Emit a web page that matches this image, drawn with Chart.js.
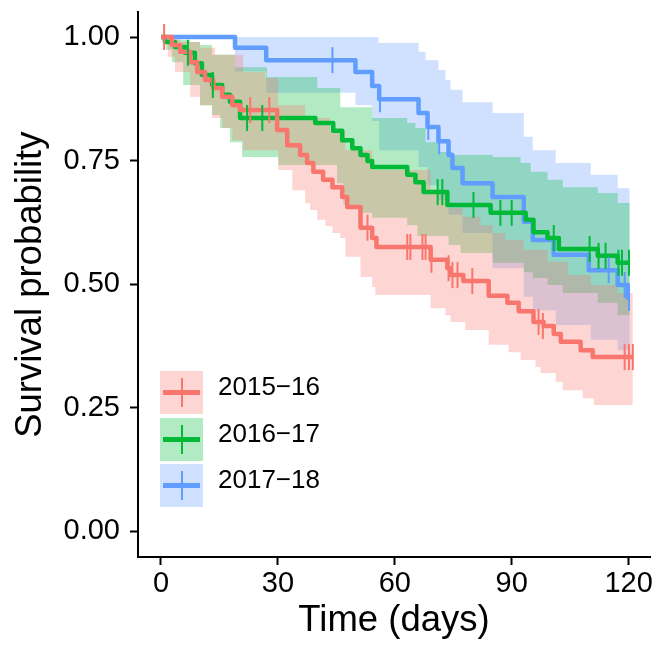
<!DOCTYPE html>
<html>
<head>
<meta charset="utf-8">
<script src="https://cdn.jsdelivr.net/npm/chart.js@4.4.1/dist/chart.umd.min.js"></script>
<style>
  body { margin: 0; background: #fff; }
  #wrap { position: relative; width: 656px; height: 649px; }
  #chart { position: absolute; left: 0; top: 0; }
  .key { position: absolute; left: 160px; width: 43px; height: 43px; }
  .key .h { position: absolute; left: 3px; right: 3px; top: 19px; height: 5px; }
  .key .v { position: absolute; left: 20.5px; width: 2px; top: 7px; height: 29px; }
  .lab { position: absolute; left: 218px; height: 43px; line-height: 43px; color: #000;
         font: 26px "Liberation Sans", Arial, sans-serif; }
</style>
</head>
<body>
<div id="wrap">
  <canvas id="chart" width="656" height="649"></canvas>
</div>
<script>
// groups
const groups = ['2015−16', '2016−17', '2017−18'];
const lineColors = ['#F8766D', '#00BA38', '#619CFF'];
const bandColors = ['rgba(248,118,109,0.3)', 'rgba(0,186,56,0.3)', 'rgba(97,156,255,0.3)'];

// axis ticks
const xTicks = [0, 30, 60, 90, 120];
const yTicks = [0, 0.25, 0.5, 0.75, 1];
const yTickLabels = ['0.00', '0.25', '0.50', '0.75', '1.00'];

// 2015-16: survival steps, censor marks, confidence band
const t1516 = [0, 2.8, 4.9, 7.5, 9.3, 11.3, 13.4, 15.7, 18.3, 20.3, 29.8, 32.4, 35.7, 37.5, 39.1, 41.6, 44.0, 46.5, 47.8, 51.2, 54.2, 55.3, 69.2, 73.5, 74.3, 77.6, 84.1, 88.9, 91.8, 95.6, 98.2, 100.8, 102.6, 107.7, 110.8, 121.1];
const s1516 = [1.0, 0.984, 0.970, 0.949, 0.929, 0.913, 0.897, 0.879, 0.862, 0.852, 0.812, 0.781, 0.761, 0.745, 0.727, 0.711, 0.696, 0.676, 0.656, 0.614, 0.593, 0.575, 0.549, 0.532, 0.518, 0.506, 0.476, 0.462, 0.445, 0.423, 0.415, 0.399, 0.383, 0.366, 0.352, 0.352];
const c1516T = [0.8, 22.9, 27.8, 53.0, 63.2, 64.0, 67.1, 67.9, 69.4, 73.8, 74.8, 76.1, 79.9, 96.9, 98.0, 119.0, 120.1, 121.1];
const c1516S = [1.0, 0.852, 0.852, 0.614, 0.575, 0.575, 0.575, 0.575, 0.549, 0.532, 0.518, 0.518, 0.506, 0.423, 0.415, 0.352, 0.352, 0.352];
const hi1516T = [0, 4.9, 10.0, 13.9, 21.1, 26.7, 30.1, 37.0, 43.4, 47.3, 54.2, 69.2, 73.8, 77.4, 82.0, 85.1, 88.4, 93.1, 99.2, 104.4, 110.3, 117.2, 121.1];
const hi1516 = [1.0, 0.990, 0.978, 0.964, 0.929, 0.917, 0.862, 0.836, 0.812, 0.771, 0.731, 0.690, 0.654, 0.636, 0.619, 0.603, 0.589, 0.569, 0.545, 0.518, 0.498, 0.482, 0.482];
const lo1516T = [0, 1.8, 3.6, 7.5, 10.0, 13.1, 15.7, 18.3, 21.1, 30.1, 33.7, 37.0, 38.3, 40.1, 42.2, 44.0, 46.0, 47.3, 51.2, 54.2, 55.0, 69.2, 73.0, 74.3, 78.1, 84.1, 89.2, 92.3, 96.1, 97.4, 101.3, 103.1, 108.2, 111.1, 121.1];
const lo1516 = [1.0, 0.960, 0.929, 0.879, 0.862, 0.836, 0.816, 0.791, 0.771, 0.731, 0.690, 0.664, 0.650, 0.630, 0.617, 0.603, 0.593, 0.555, 0.514, 0.494, 0.478, 0.451, 0.437, 0.423, 0.407, 0.377, 0.362, 0.346, 0.332, 0.320, 0.302, 0.285, 0.269, 0.255, 0.255];

// 2016-17
const t1617 = [0, 1.0, 3.6, 6.2, 8.7, 10.5, 13.1, 15.7, 17.7, 20.3, 39.6, 44.2, 46.5, 49.1, 51.2, 53.0, 54.2, 63.2, 65.3, 67.4, 73.5, 84.6, 93.6, 95.6, 99.2, 102.1, 112.1, 117.2, 120.3];
const s1617 = [1.0, 0.990, 0.980, 0.968, 0.947, 0.923, 0.903, 0.883, 0.869, 0.836, 0.826, 0.810, 0.791, 0.775, 0.761, 0.749, 0.737, 0.721, 0.706, 0.686, 0.660, 0.644, 0.630, 0.605, 0.593, 0.571, 0.557, 0.543, 0.543];
const c1617T = [6.9, 13.3, 22.1, 26.0, 71.0, 72.2, 80.2, 87.1, 90.0, 100.8, 110.0, 112.3, 114.1, 117.4, 118.3, 120.1];
const c1617S = [0.968, 0.903, 0.836, 0.836, 0.686, 0.686, 0.660, 0.644, 0.644, 0.593, 0.571, 0.557, 0.557, 0.543, 0.543, 0.543];
const hi1617T = [0, 2.3, 7.5, 10.0, 13.1, 19.0, 27.2, 40.1, 46.0, 54.2, 63.2, 65.3, 67.9, 71.2, 74.8, 85.1, 92.3, 94.9, 99.2, 103.1, 112.1, 117.2, 120.3];
const hi1617 = [1.0, 0.994, 0.990, 0.984, 0.964, 0.939, 0.919, 0.897, 0.858, 0.836, 0.826, 0.816, 0.787, 0.767, 0.761, 0.757, 0.745, 0.727, 0.711, 0.696, 0.684, 0.664, 0.664];
const lo1617T = [0, 1.3, 2.8, 5.7, 10.0, 13.1, 15.2, 17.7, 20.8, 30.1, 45.2, 46.8, 51.2, 54.2, 63.2, 65.8, 73.8, 76.9, 85.1, 93.1, 95.4, 99.2, 103.1, 112.1, 117.2, 120.3];
const lo1617 = [1.0, 0.974, 0.949, 0.903, 0.862, 0.842, 0.816, 0.787, 0.757, 0.741, 0.704, 0.660, 0.644, 0.634, 0.619, 0.597, 0.579, 0.563, 0.543, 0.524, 0.512, 0.498, 0.482, 0.462, 0.437, 0.437];

// 2017-18
const t1718 = [0, 19.0, 27.0, 49.9, 54.2, 56.0, 66.1, 68.4, 71.2, 73.8, 74.8, 77.4, 85.1, 93.1, 95.4, 100.8, 109.8, 117.2, 119.8, 120.3];
const s1718 = [1.0, 0.978, 0.953, 0.929, 0.901, 0.874, 0.846, 0.818, 0.789, 0.761, 0.735, 0.704, 0.676, 0.626, 0.589, 0.559, 0.528, 0.498, 0.472, 0.472];
const c1718T = [44.0, 56.2, 68.6, 71.4, 114.9, 119.0, 120.1];
const c1718S = [0.953, 0.874, 0.818, 0.789, 0.528, 0.498, 0.472];
const hi1718T = [0, 55.8, 66.1, 67.9, 71.2, 73.0, 74.3, 77.4, 85.1, 93.1, 95.4, 101.3, 110.3, 117.2, 120.3];
const hi1718 = [1.0, 0.988, 0.970, 0.953, 0.933, 0.913, 0.893, 0.868, 0.846, 0.798, 0.771, 0.745, 0.721, 0.694, 0.694];
const lo1718T = [0, 19.0, 27.0, 49.9, 54.2, 56.0, 66.1, 68.4, 71.2, 73.8, 77.4, 85.1, 93.1, 95.4, 101.3, 110.3, 117.2, 120.3];
const lo1718 = [1.0, 0.930, 0.887, 0.862, 0.830, 0.771, 0.737, 0.700, 0.670, 0.640, 0.603, 0.532, 0.474, 0.447, 0.417, 0.387, 0.366, 0.366];

const curves = [[t1516, s1516], [t1617, s1617], [t1718, s1718]];
const censors = [[c1516T, c1516S], [c1617T, c1617S], [c1718T, c1718S]];
const bands = [[hi1516T, hi1516, lo1516T, lo1516], [hi1617T, hi1617, lo1617T, lo1617], [hi1718T, hi1718, lo1718T, lo1718]];

function pts(ts, ss) { return ts.map((t, i) => ({ x: t, y: ss[i] })); }

const fontFam = '"Liberation Sans", Arial, Helvetica, sans-serif';
const datasets = [];

// censor ticks on top
censors.forEach((c, g) => {
  datasets.push({
    data: pts(c[0], c[1]), showLine: false,
    pointStyle: 'line', pointRotation: 90, pointRadius: 13,
    pointBorderWidth: 2, borderColor: lineColors[g], backgroundColor: lineColors[g],
    clip: false
  });
});
// survival lines
curves.forEach((c, g) => {
  datasets.push({
    data: pts(c[0], c[1]), stepped: true, fill: false,
    borderColor: lineColors[g], borderWidth: 4.5, pointRadius: 0,
    borderJoinStyle: 'round', borderCapStyle: 'butt'
  });
});
// confidence bands (upper fills down to lower)
bands.forEach((b, g) => {
  datasets.push({
    data: pts(b[0], b[1]), stepped: true, fill: '+1',
    backgroundColor: bandColors[g], borderColor: 'rgba(0,0,0,0)', borderWidth: 0, pointRadius: 0
  });
  datasets.push({
    data: pts(b[2], b[3]), stepped: true, fill: false,
    borderColor: 'rgba(0,0,0,0)', borderWidth: 0, pointRadius: 0
  });
});

new Chart(document.getElementById('chart'), {
  type: 'line',
  data: { datasets: datasets },
  options: {
    responsive: false,
    animation: false,
    events: [],
    layout: { autoPadding: false, padding: { left: 0, right: 6, top: 12.3, bottom: 0 } },
    plugins: { legend: { display: false }, tooltip: { enabled: false } },
    scales: {
      x: {
        type: 'linear', min: -5.9, max: 125.5,
        afterBuildTicks: s => { s.ticks = xTicks.map(v => ({ value: v })); },
        afterFit: s => { s.height = 92; s.paddingLeft = 0; s.paddingRight = 0; },
        grid: { drawOnChartArea: false, drawTicks: true, tickLength: 8, tickColor: '#000', tickWidth: 2 },
        border: { display: true, color: '#000', width: 2 },
        ticks: { color: '#000', font: { size: 29, family: fontFam }, padding: 2, maxRotation: 0, autoSkip: false,
                 callback: v => String(v) },
        title: { display: true, text: 'Time (days)', color: '#000', font: { size: 36.5, family: fontFam },
                 padding: { top: 0, bottom: 6 } }
      },
      y: {
        type: 'linear', min: -0.0526, max: 1.05,
        afterBuildTicks: s => { s.ticks = yTicks.map(v => ({ value: v })); },
        afterFit: s => { s.width = 138; s.paddingTop = 0; s.paddingBottom = 0; },
        grid: { drawOnChartArea: false, drawTicks: true, tickLength: 8, tickColor: '#000', tickWidth: 2 },
        border: { display: true, color: '#000', width: 2 },
        ticks: { color: '#000', font: { size: 29, family: fontFam }, padding: 10,
                 callback: (v, i) => yTickLabels[i] },
        title: { display: true, text: 'Survival probability', color: '#000', font: { size: 36.5, family: fontFam },
                 padding: { top: 9, bottom: 0 } }
      }
    }
  }
});

// legend keys, ggplot style
const wrap = document.getElementById('wrap');
groups.forEach((name, g) => {
  const top = 371 + g * 46.5;
  const key = document.createElement('div');
  key.className = 'key';
  key.style.top = top + 'px';
  key.style.background = bandColors[g];
  key.innerHTML = '<div class="h" style="background:' + lineColors[g] + '"></div>' +
                  '<div class="v" style="background:' + lineColors[g] + '"></div>';
  wrap.appendChild(key);
  const lab = document.createElement('div');
  lab.className = 'lab';
  lab.style.top = top + 'px';
  lab.textContent = name;
  wrap.appendChild(lab);
});
</script>
</body>
</html>
